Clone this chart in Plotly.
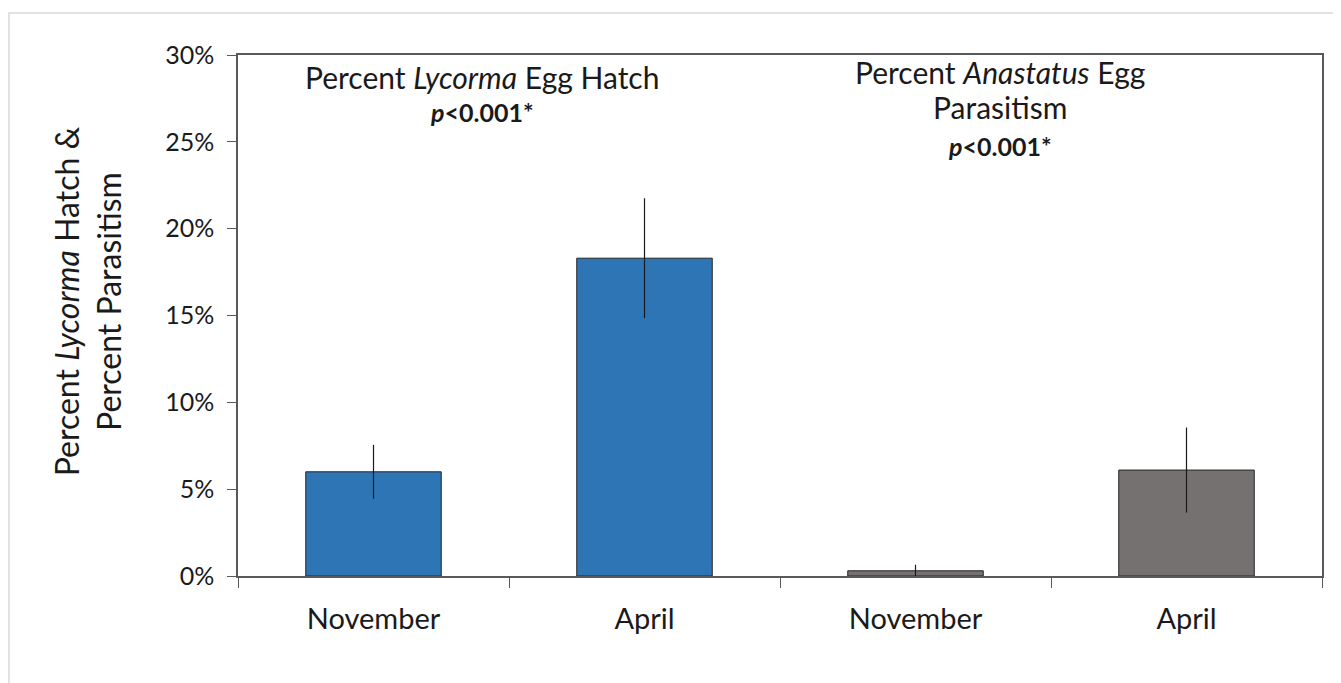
import plotly.graph_objects as go

# data
categories = ["Nov (hatch)", "Apr (hatch)", "Nov (parasitism)", "Apr (parasitism)"]
tick_labels = ["November", "April", "November", "April"]
values = [6.0, 18.3, 0.3, 6.1]
errors = [1.55, 3.45, 0.35, 2.45]
bar_colors = ["#2E75B6", "#2E75B6", "#767171", "#767171"]
y_ticks = [0, 5, 10, 15, 20, 25, 30]
y_tick_labels = ["0%", "5%", "10%", "15%", "20%", "25%", "30%"]

FONT = "Lato"
AXIS = "#595959"
TEXT = "#1a1a1a"

fig = go.Figure(
    go.Bar(
        x=categories,
        y=values,
        marker=dict(color=bar_colors, line=dict(color="#262626", width=1)),
        error_y=dict(type="data", array=errors, color=TEXT, thickness=1.2, width=0),
        width=0.5,
    )
)

fig.update_xaxes(
    type="category",
    tickvals=categories,
    ticktext=tick_labels,
    tickson="boundaries",
    ticks="outside",
    ticklen=10,
    tickcolor=AXIS,
    ticklabelstandoff=16,
    showline=True,
    linecolor=AXIS,
    linewidth=1.5,
    mirror=True,
    tickfont=dict(size=29, color=TEXT, family=FONT),
    showgrid=False,
)
fig.update_yaxes(
    range=[0, 30],
    tickvals=y_ticks,
    ticktext=y_tick_labels,
    ticks="outside",
    ticklen=9,
    tickcolor=AXIS,
    ticklabelstandoff=8,
    showline=True,
    linecolor=AXIS,
    linewidth=1.5,
    mirror=True,
    showgrid=False,
    zeroline=False,
    tickfont=dict(size=25, color=TEXT, family=FONT),
)

# y axis title, placed as a rotated annotation
fig.add_annotation(
    x=-0.138, y=0.528, xref="paper", yref="paper",
    xanchor="center", yanchor="middle",
    text="Percent <i>Lycorma</i> Hatch &<br>Percent Parasitism",
    textangle=-90, showarrow=False,
    font=dict(size=32, color=TEXT, family=FONT),
)

ann_font = dict(size=30, color=TEXT, family=FONT)
p_font = dict(size=25, color=TEXT, family=FONT)
fig.add_annotation(
    x=0.4, y=0.958, xref="x", yref="paper", yanchor="middle",
    text="Percent <i>Lycorma</i> Egg Hatch", showarrow=False, font=ann_font,
)
fig.add_annotation(
    x=0.4, y=0.891, xref="x", yref="paper", yanchor="middle",
    text="<b><i>p</i>&lt;0.001*</b>", showarrow=False, font=p_font,
)
fig.add_annotation(
    x=2.31, y=0.967, xref="x", yref="paper", yanchor="middle",
    text="Percent <i>Anastatus</i> Egg", showarrow=False, font=ann_font,
)
fig.add_annotation(
    x=2.31, y=0.900, xref="x", yref="paper", yanchor="middle",
    text="Parasitism", showarrow=False, font=ann_font,
)
fig.add_annotation(
    x=2.31, y=0.825, xref="x", yref="paper", yanchor="middle",
    text="<b><i>p</i>&lt;0.001*</b>", showarrow=False, font=p_font,
)

# light outer chart frame
fig.add_shape(
    type="rect", xref="paper", yref="paper",
    x0=-0.2113, x1=1.04, y0=-0.25, y1=1.0806,
    line=dict(color="#d9d9d9", width=1.5), layer="below",
)

fig.update_layout(
    width=1333,
    height=675,
    margin=dict(l=230, r=19, t=47, b=107),
    plot_bgcolor="white",
    paper_bgcolor="white",
    bargap=0.5,
    showlegend=False,
)

fig.write_html("out.html")
